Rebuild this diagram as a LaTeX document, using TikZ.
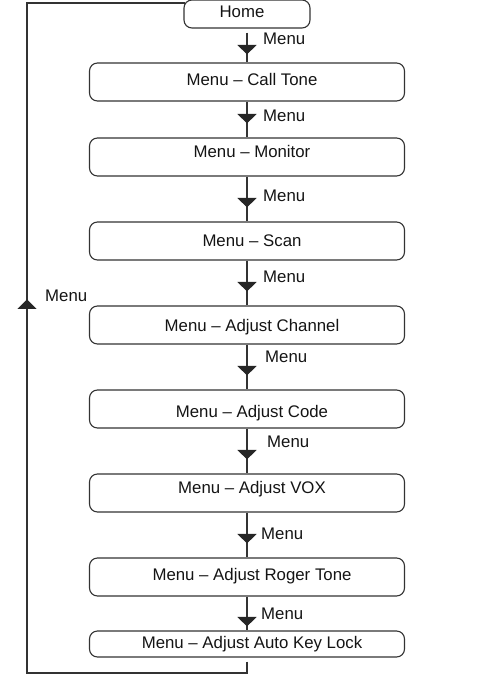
\documentclass[tikz,border=0pt]{standalone}
\usepackage{fontspec}
\setmainfont{Liberation Sans}
\usetikzlibrary{arrows.meta,decorations.markings}
\tikzset{mtip/.tip={Triangle[width=19bp,length=9.5bp]}}
\begin{document}
\begin{tikzpicture}[x=1bp,y=-1bp,
  txt/.style={font=\fontsize{16.8bp}{20bp}\selectfont, text=black!92},
  box/.style={txt, draw=black!80, line width=1.1bp, rounded corners=8bp, inner sep=0pt,
    minimum width=315bp, minimum height=38bp, text depth=0pt, text height=#1,
    execute at begin node=\hspace*{10bp}},
  conn/.style={draw=black!80, line width=1.1bp},
  arrowat/.style={postaction={decorate, decoration={markings,
    mark=at position #1 with {\arrow[black!85]{mtip}}}}},
  lbl/.style={txt, inner sep=0pt, anchor=west, text height=12bp, text depth=0pt}]
\useasboundingbox (0,0) rectangle (494,684);

\node[box=8bp, minimum width=126bp, minimum height=28bp, execute at begin node=\hspace*{-20bp}] (home) at (247,14) {Home};
\node[box=8bp]  (calltone) at (247,82)  {Menu -- Call Tone};
\node[box=0bp]  (monitor)  at (247,157) {Menu -- Monitor};
\node[box=11bp] (scan)     at (247,241) {Menu -- Scan};
\node[box=12bp] (channel)  at (247,325) {Menu -- Adjust Channel};
\node[box=16bp] (code)     at (247,409) {Menu -- Adjust Code};
\node[box=1bp]  (vox)      at (247,493) {Menu -- Adjust VOX};
\node[box=6bp]  (roger)    at (247,577) {Menu -- Adjust Roger Tone};
\node[box=8bp, minimum height=26bp] (autokey) at (247,644) {Menu -- Adjust Auto Key Lock};

\draw[conn, shorten <=4bp, arrowat=-8bp] (home) -- (calltone);
\draw[conn, arrowat=-14bp] (calltone) -- (monitor);
\draw[conn, arrowat=-14bp] (monitor) -- (scan);
\draw[conn, arrowat=-14bp] (scan) -- (channel);
\draw[conn, arrowat=-14bp] (channel) -- (code);
\draw[conn, arrowat=-14bp] (code) -- (vox);
\draw[conn, arrowat=-14bp] (vox) -- (roger);
\draw[conn, arrowat=-4bp] (roger) -- (autokey);

\coordinate (loopbl) at (27,673);
\coordinate (looptl) at (27,3);
\draw[conn, shorten <=4bp, arrowat=609bp] (autokey.south) |- (loopbl) -- (looptl) -- ([xshift=1.5bp]home.west |- looptl);

\node[lbl] (m1) at (263,39)  {Menu};
\node[lbl] (m2) at (263,116) {Menu};
\node[lbl] (m3) at (263,195) {Menu};
\node[lbl] (m4) at (263,276) {Menu};
\node[lbl] (m5) at (265,356) {Menu};
\node[lbl] (m6) at (267,441) {Menu};
\node[lbl] (m7) at (261,533) {Menu};
\node[lbl] (m8) at (261,613) {Menu};
\node[lbl] (m9) at (45,295)  {Menu};
\end{tikzpicture}
\end{document}
